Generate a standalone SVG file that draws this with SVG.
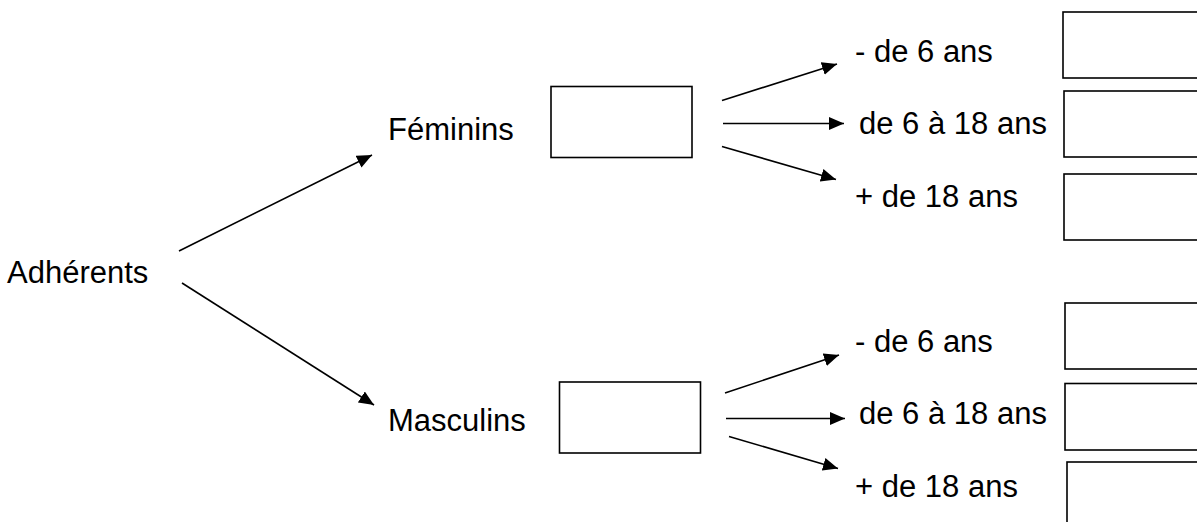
<svg xmlns="http://www.w3.org/2000/svg" width="1197" height="522" viewBox="0 0 1197 522">
<style>
text{font-family:"Liberation Sans",Arial,sans-serif;font-size:31px;fill:#000}
.box{fill:#fff;stroke:#000;stroke-width:1.6}
.conn line{stroke:#000;stroke-width:1.6;marker-end:url(#ah)}
</style>
<defs>
<marker id="ah" markerUnits="userSpaceOnUse" markerWidth="16" markerHeight="14" refX="15" refY="6.5" orient="auto">
<path d="M0,0 L15,6.5 L0,13 Z" fill="#000"/>
</marker>
</defs>
<rect width="1197" height="522" fill="#fff"/>
<g id="adherents"><text x="7" y="283">Adhérents</text></g>
<g id="feminins"><text x="388" y="140">Féminins</text><rect class="box" x="551" y="86.5" width="141" height="71"/></g>
<g id="masculins"><text x="388" y="431">Masculins</text><rect class="box" x="559.5" y="382" width="141" height="71"/></g>
<g id="f1"><text x="855" y="62">- de 6 ans</text><rect class="box" x="1063" y="12" width="150" height="66"/></g>
<g id="f2"><text x="859" y="134">de 6 à 18 ans</text><rect class="box" x="1064" y="91" width="150" height="66"/></g>
<g id="f3"><text x="855" y="207">+ de 18 ans</text><rect class="box" x="1064" y="174" width="150" height="66"/></g>
<g id="m1"><text x="855" y="352">- de 6 ans</text><rect class="box" x="1065" y="303" width="150" height="66"/></g>
<g id="m2"><text x="859" y="424">de 6 à 18 ans</text><rect class="box" x="1065" y="383.5" width="150" height="66.5"/></g>
<g id="m3"><text x="855" y="497">+ de 18 ans</text><rect class="box" x="1067" y="462" width="150" height="70"/></g>
<g id="connectors" class="conn">
<line x1="179" y1="251" x2="372" y2="155"/>
<line x1="182" y1="283" x2="374" y2="405"/>
<line x1="722" y1="100.5" x2="837" y2="64"/>
<line x1="723" y1="123.5" x2="844" y2="123.5"/>
<line x1="722" y1="146.5" x2="836" y2="179.5"/>
<line x1="725" y1="393" x2="839" y2="355"/>
<line x1="726" y1="418.5" x2="845" y2="418.5"/>
<line x1="729" y1="436.5" x2="838" y2="468.5"/>
</g>
</svg>
